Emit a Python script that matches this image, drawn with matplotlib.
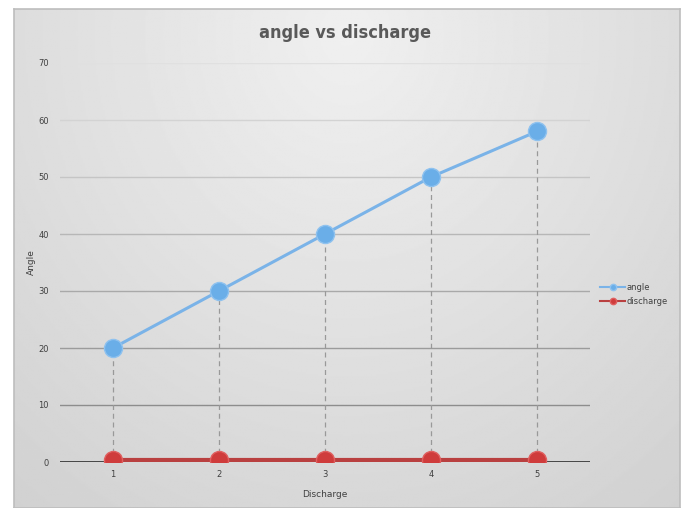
import matplotlib.pyplot as plt
import numpy as np

categories = [1, 2, 3, 4, 5]
angle = [20, 30, 40, 50, 58]
discharge = [0.3, 0.3, 0.3, 0.3, 0.3]

W, H = 683, 508
fig = plt.figure(figsize=(W / 100, H / 100), dpi=100)
fig.patch.set_facecolor('white')

# grey chart-area backdrop, lighter towards the top middle
bg = fig.add_axes([14 / W, 0, 666 / W, 499 / H])
yy, xx = np.mgrid[0:1:300j, 0:1:400j]
r = np.sqrt(((xx - 0.5) / 0.8) ** 2 + ((yy - 0.05) / 1.2) ** 2)
shade = 0.94 - 0.12 * np.clip(r, 0, 1)
bg.imshow(shade, cmap='gray', vmin=0, vmax=1, aspect='auto', extent=[0, 1, 0, 1], origin='upper')
bg.set_xticks([])
bg.set_yticks([])
for s in bg.spines.values():
    s.set_color('#bdbdbd')
    s.set_linewidth(1.2)

ax = fig.add_axes([60 / W, (H - 462) / H, 530 / W, 399 / H])
ax.set_facecolor('none')
ax.set_xlim(0.5, 5.5)
ax.set_ylim(0, 70)

# horizontal gridlines, darker near the bottom
for v in range(10, 80, 10):
    g = 0.5 + 0.38 * (v / 70)
    ax.axhline(v, color=(g, g, g), lw=1.0, zorder=1)
ax.axhline(0, color='#3a3a3a', lw=1.3, zorder=1)

# drop lines from the angle points down to the axis
ax.vlines(categories, 0, angle, colors='#999999', linestyles=(0, (4, 3)), lw=0.9, zorder=2)

ax.plot(categories, angle, color='#7ab3e8', lw=2.2, marker='o', ms=13,
        mfc='#6aaee8', mec='#8fc2ef', mew=1, label='angle', zorder=4)
ax.plot(categories, discharge, color='#b94040', lw=3, marker='o', ms=13,
        mfc='#cf3c3c', mec='#e06060', mew=1, label='discharge', zorder=4)

for s in ax.spines.values():
    s.set_visible(False)
ax.set_xticks(categories)
ax.set_xticklabels([str(c) for c in categories], fontsize=6, color='#404040')
ax.set_yticks(range(0, 80, 10))
ax.tick_params(axis='both', length=0, labelsize=6, labelcolor='#404040', pad=8)
ax.tick_params(axis='x', pad=6)

ax.set_xlabel('Discharge', fontsize=6.5, color='#404040', labelpad=8)
ax.set_ylabel('Angle', fontsize=6.5, color='#404040', labelpad=2)
fig.text(345 / W, 1 - 33 / H, 'angle vs discharge', ha='center', va='center',
         fontsize=13, color='#595959', family='DejaVu Sans', fontstretch='condensed',
         fontweight='bold')

leg = ax.legend(loc='center left', bbox_to_anchor=(1.005, 0.42), frameon=False,
                fontsize=6, handlelength=3, markerscale=0.35, labelspacing=0.6,
                handletextpad=0.2)
for line in leg.get_lines():
    line.set_linewidth(1.5)
for t in leg.get_texts():
    t.set_color('#404040')

fig.savefig('out.png', dpi=100)
